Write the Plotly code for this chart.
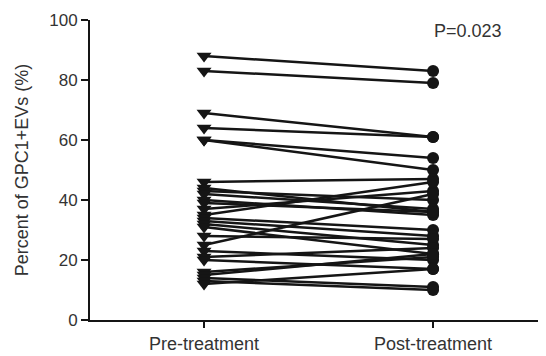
import plotly.graph_objects as go

categories = ["Pre-treatment", "Post-treatment"]
pre_values = [88, 83, 69, 64, 60, 60, 46, 44, 43, 42, 40, 39, 37, 35, 34, 33, 32, 31, 28, 25, 23, 21, 20, 16, 15, 14, 13, 12]
post_values = [83, 79, 61, 61, 54, 50, 47, 36, 40, 37, 35, 36, 43, 46, 30, 28, 25, 22, 27, 42, 20, 24, 17, 21, 22, 11, 10, 17]
y_ticks = [0, 20, 40, 60, 80, 100]
p_label = "P=0.023"

fig = go.Figure()
for a, b in zip(pre_values, post_values):
    fig.add_trace(go.Scatter(
        x=categories, y=[a, b], mode="lines",
        line=dict(color="#151515", width=2.5),
        showlegend=False, hoverinfo="skip"))
fig.add_trace(go.Scatter(
    x=[categories[0]] * len(pre_values), y=pre_values, mode="markers",
    marker=dict(symbol="triangle-down", size=13, color="#151515"),
    showlegend=False))
fig.add_trace(go.Scatter(
    x=[categories[1]] * len(post_values), y=post_values, mode="markers",
    marker=dict(symbol="circle", size=12, color="#151515"),
    showlegend=False))

fig.add_annotation(x=1.153, y=96.5, xref="x", yref="y", text=p_label,
                   showarrow=False, font=dict(size=18, color="#333333",
                                              family="Liberation Sans, Arial"))

# page body has an 8px default margin, so the figure is offset by 8px
fig.update_layout(
    width=538, height=348,
    margin=dict(l=82, r=3, t=12, b=36),
    paper_bgcolor="white", plot_bgcolor="white",
    font=dict(family="Liberation Sans, Arial", color="#333333", size=17),
    xaxis=dict(type="category", range=[-0.498, 1.48], showline=True,
               linecolor="#151515", linewidth=2, ticks="outside",
               ticklen=6, tickwidth=2, tickcolor="#151515", showgrid=False,
               zeroline=False, tickfont=dict(size=18), automargin=False),
    yaxis=dict(range=[0, 100], tickvals=y_ticks, showline=True,
               linecolor="#151515", linewidth=2, ticks="outside",
               ticklen=7, tickwidth=2, tickcolor="#151515", showgrid=False,
               zeroline=False, tickfont=dict(size=17), automargin=False,
               title=dict(text="Percent of GPC1+EVs (%)", font=dict(size=18),
                          standoff=16)),
)
fig.write_html("out.html")
